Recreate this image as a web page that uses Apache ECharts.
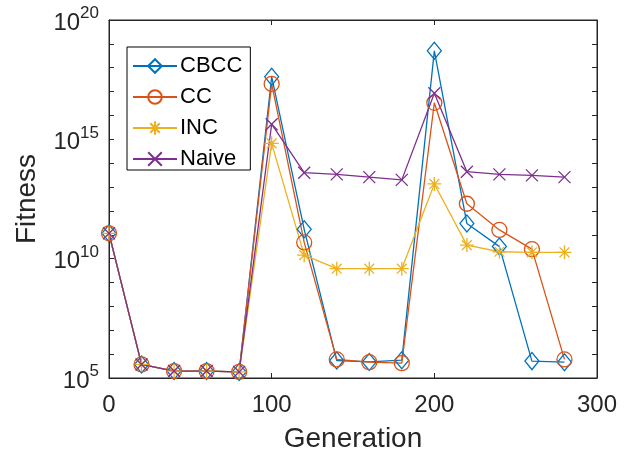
<!DOCTYPE html>
<html>
<head>
<meta charset="utf-8">
<script src="https://cdn.jsdelivr.net/npm/echarts@6/dist/echarts.min.js"></script>
<style>
  html, body { margin: 0; padding: 0; background: #fff; }
  #chart { width: 640px; height: 460px; }
</style>
</head>
<body>
<div id="chart"></div>
<script>
// Generation at which each fitness sample was taken
const generations = [0, 20, 40, 60, 80, 100, 120, 140, 160, 180, 200, 220, 240, 260, 280];

// Best fitness per method (log scale)
const cbcc  = [1.15e11, 3.7e5, 1.95e5, 1.95e5, 1.8e5, 4.2e17, 1.7e11, 5.4e5, 4.7e5, 5.6e5, 5.1e18, 3.0e11, 3.2e10, 5.1e5, 4.6e5];
const cc    = [1.15e11, 3.7e5, 1.95e5, 1.95e5, 1.8e5, 2.1e17, 4.8e10, 6.0e5, 4.6e5, 4.2e5, 3.4e16, 2.0e12, 1.6e11, 2.5e10, 6.0e5];
const inc   = [1.15e11, 3.7e5, 1.95e5, 1.95e5, 1.8e5, 6.8e14, 1.4e10, 3.8e9, 3.8e9, 3.8e9, 1.35e13, 3.7e10, 1.95e10, 1.85e10, 1.85e10];
const naive = [1.15e11, 3.7e5, 1.95e5, 1.95e5, 1.8e5, 4.3e15, 4.0e13, 3.4e13, 2.6e13, 2.0e13, 8.5e16, 4.4e13, 3.4e13, 3.1e13, 2.6e13];

const seriesNames = ['CBCC', 'CC', 'INC', 'Naive'];
const xTicks = [0, 100, 200, 300];
const yLabelExponents = [5, 10, 15, 20];

const FONT = '"Liberation Sans", Arial, Helvetica, sans-serif';
const AXIS_COLOR = '#262626';

const colors = ['#0072BD', '#D95319', '#EDB120', '#7E2F8E'];
const symbols = [
  'path://M10,0L20,12L10,24L0,12Z',
  'circle',
  'path://M10,0L10,20M0,10L20,10M3,3L17,17M3,17L17,3',
  'path://M0,0L20,20M0,20L20,0'
];
const symbolSizes = [[14, 17], 15, 14, 12];

function pairs(values) {
  return generations.map((g, i) => [g, values[i]]);
}

const chart = echarts.init(document.getElementById('chart'), null, { renderer: 'canvas' });

const makeSeries = (name, values, idx) => ({
  name: name,
  type: 'line',
  data: pairs(values),
  symbol: symbols[idx],
  symbolSize: symbolSizes[idx],
  showAllSymbol: true,
  lineStyle: { color: colors[idx], width: 1.3 },
  itemStyle: { color: 'rgba(0,0,0,0)', borderColor: colors[idx], borderWidth: 1.3 },
  emphasis: { disabled: true },
  animation: false
});

const option = {
  animation: false,
  backgroundColor: '#fff',
  grid: {
    left: 109, right: 43, top: 20, bottom: 82,
    show: true, borderColor: AXIS_COLOR, borderWidth: 1, backgroundColor: '#fff'
  },
  legend: {
    data: seriesNames,
    orient: 'vertical',
    left: 127, top: 47,
    backgroundColor: '#fff',
    borderColor: '#000', borderWidth: 1,
    padding: [8, 8, 0, 5],
    itemWidth: 44, itemHeight: 17, itemGap: 9,
    textStyle: { fontFamily: FONT, fontSize: 22, color: '#000', padding: [0, 0, 0, -2] }
  },
  xAxis: [{
    type: 'value', min: 0, max: 300, interval: 100,
    name: 'Generation', nameLocation: 'middle', nameGap: 47,
    nameTextStyle: { fontFamily: FONT, fontSize: 28, color: AXIS_COLOR },
    axisLine: { show: true, onZero: false, lineStyle: { color: AXIS_COLOR, width: 1 } },
    axisTick: { show: true, inside: true, length: 5, lineStyle: { color: AXIS_COLOR } },
    axisLabel: {
      fontFamily: FONT, fontSize: 24, color: AXIS_COLOR, margin: 15,
      formatter: v => xTicks.includes(v) ? String(v) : ''
    },
    splitLine: { show: false }
  }, {
    type: 'value', min: 0, max: 300, interval: 100, position: 'top',
    axisLine: { show: true, onZero: false, lineStyle: { color: AXIS_COLOR, width: 1 } },
    axisTick: { show: true, inside: true, length: 5, lineStyle: { color: AXIS_COLOR } },
    axisLabel: { show: false },
    splitLine: { show: false }
  }],
  yAxis: [{
    type: 'log', logBase: 10, min: 1e5, max: 1e20, interval: 1,
    name: 'Fitness', nameLocation: 'middle', nameGap: 68,
    nameTextStyle: { fontFamily: FONT, fontSize: 28, color: AXIS_COLOR },
    axisLine: { show: true, onZero: false, lineStyle: { color: AXIS_COLOR, width: 1 } },
    axisTick: { show: true, inside: true, length: 5, lineStyle: { color: AXIS_COLOR } },
    axisLabel: {
      margin: 10,
      formatter: v => {
        const e = Math.round(Math.log10(v));
        return yLabelExponents.includes(e) ? '{b|10}{s|' + e + '}' : '';
      },
      rich: {
        b: { fontFamily: FONT, fontSize: 24, color: AXIS_COLOR, lineHeight: 30, verticalAlign: 'bottom' },
        s: { fontFamily: FONT, fontSize: 17, color: AXIS_COLOR, lineHeight: 30, verticalAlign: 'top' }
      }
    },
    splitLine: { show: false }
  }, {
    type: 'log', logBase: 10, min: 1e5, max: 1e20, interval: 1, position: 'right',
    axisLine: { show: true, onZero: false, lineStyle: { color: AXIS_COLOR, width: 1 } },
    axisTick: { show: true, inside: true, length: 5, lineStyle: { color: AXIS_COLOR } },
    axisLabel: { show: false },
    splitLine: { show: false }
  }],
  series: [
    makeSeries('CBCC', cbcc, 0),
    makeSeries('CC', cc, 1),
    makeSeries('INC', inc, 2),
    makeSeries('Naive', naive, 3)
  ]
};

chart.setOption(option);
</script>
</body>
</html>
